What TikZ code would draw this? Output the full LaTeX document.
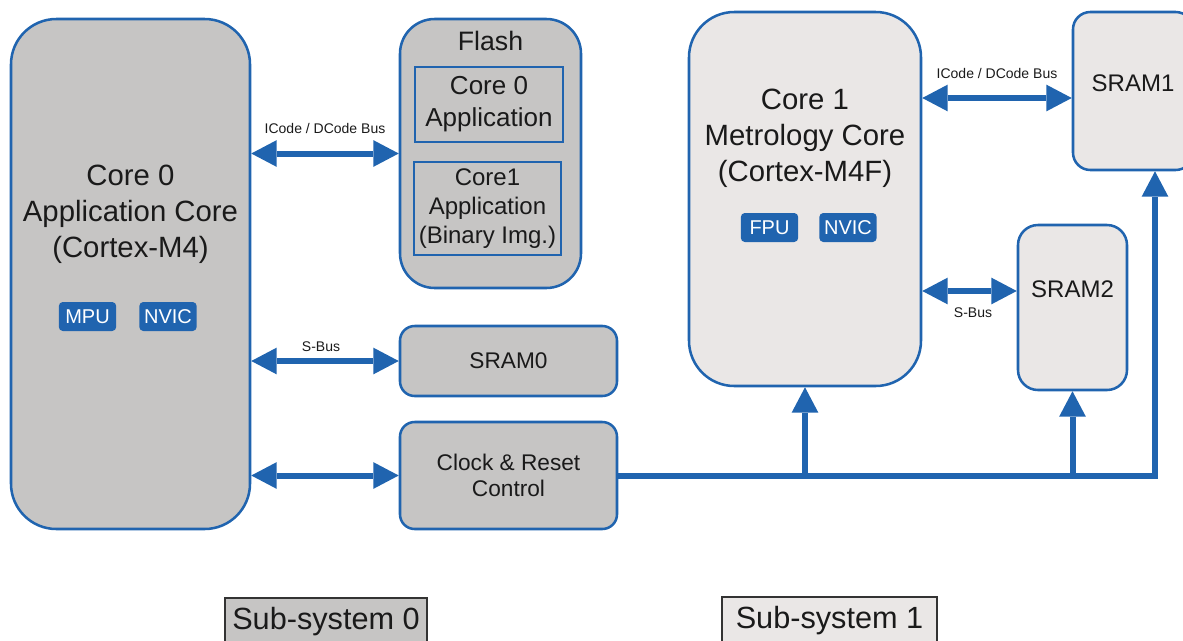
\documentclass[tikz,border=0pt]{standalone}
\usepackage{fontspec}
\setmainfont{Liberation Sans}
\usetikzlibrary{arrows.meta,positioning}
\definecolor{sysblue}{HTML}{2064AF}
\definecolor{grayfill}{HTML}{C6C5C4}
\definecolor{lightfill}{HTML}{EAE7E6}
\definecolor{txtblack}{HTML}{1A1A1A}

\begin{document}
\begin{tikzpicture}[x=.75pt,y=-.75pt,
	blk/.style={draw=sysblue, line width=1.9pt, rectangle, inner sep=0pt, text=txtblack, align=center},
	ss0/.style={blk, fill=grayfill},
	ss1/.style={blk, fill=lightfill},
	fsz/.style 2 args={font=\fontsize{#1}{#2}\selectfont},
	txt/.style={text=txtblack, align=center, inner sep=0pt},
	unit/.style={fill=sysblue, rounded corners=3pt, text=white, inner sep=0pt, minimum height=21.75pt, minimum width=43pt, fsz={15}{18}},
	bus/.style={draw=sysblue, line width=4.5pt, {Triangle[width=20pt,length=19pt,line width=0pt]}-{Triangle[width=20pt,length=19pt,line width=0pt]}},
	feed/.style={draw=sysblue, line width=4.5pt, -{Triangle[width=20pt,length=19pt,line width=0pt]}},
	buslbl/.style={txt, fsz={10.5}{12}},
	subsys/.style={draw=black!80, line width=1.5pt, inner sep=0pt, fsz={23}{27}, text=txtblack}
	]
	\useasboundingbox (0,0) rectangle (1183,640);
	
	%sub-system 0
	\node[ss0, rounded corners=34pt, minimum width=179.25pt, minimum height=382.5pt] (core0) at (130.5,274) {};
	\node[txt, fsz={22}{27}] (core0txt) at (130.5,214) {Core 0\\Application Core\\(Cortex-M4)};
	
	\node[ss0, rounded corners=26pt, minimum width=135.75pt, minimum height=201.75pt] (flash) at (490.5,153.5) {};
	\node[txt, fsz={20}{24}] (flashtxt) at (490.5,41) {Flash};
	\node[ss0, minimum width=111pt, minimum height=56.25pt, fsz={19.5}{25}] (app0) at (489,104.5) {Core 0\\[-1pt]Application};
	\node[ss0, minimum width=110.25pt, minimum height=69.75pt, fsz={18}{21.5}] (app1) at (487.5,208.5) {Core1\\Application\\(Binary Img.)};
	
	\node[ss0, rounded corners=11pt, minimum width=162.75pt, minimum height=52.5pt, fsz={17}{20}] (sram0) at (508.5,361) {SRAM0};
	\node[ss0, rounded corners=11pt, minimum width=162.75pt, minimum height=80.25pt, fsz={17}{20}] (clk) at (508.5,475.5) {Clock \& Reset\\Control};
	
	%sub-system 1
	\node[ss1, rounded corners=34pt, minimum width=174pt, minimum height=280.5pt] (core1) at (805,199) {};
	\node[txt, fsz={22}{27}] (core1txt) at (805,138) {Core 1\\Metrology Core\\(Cortex-M4F)};
	
	\node[ss1, rounded corners=13pt, minimum width=90pt, minimum height=118.5pt] (sram1) at (1133,91) {};
	\node[txt, fsz={18}{21}] (sram1txt) at (1133,83) {SRAM1};
	\node[ss1, rounded corners=15pt, minimum width=81.75pt, minimum height=123.75pt] (sram2) at (1072.5,307.5) {};
	\node[txt, fsz={18}{21}] (sram2txt) at (1072.5,289) {SRAM2};
	
	%core units
	\foreach \n/\t/\x/\y in {mpu/MPU/87.5/316.5, nvic0/NVIC/168/316.5, fpu/FPU/769.5/227.5, nvic1/NVIC/848/227.5}{
		\node[unit] (\n) at (\x,\y) {\t};
	}
	
	%buses core 0
	\foreach \b in {flash,sram0,clk}{
		\draw[bus] (core0.east |- \b.west) -- (\b.west);
	}
	\node[buslbl] (ibus0) at (325,128) {ICode / DCode Bus};
	\node[buslbl] (sbus0) at (321,347) {S-Bus};
	
	%buses core 1
	\coordinate (ib1) at (921,98);
	\coordinate (sb1) at (921,291);
	\draw[bus] (core1.east |- ib1) -- (sram1.west |- ib1);
	\draw[bus] (core1.east |- sb1) -- (sram2.west |- sb1);
	\node[buslbl] (ibus1) at (997,73) {ICode / DCode Bus};
	\node[buslbl] (sbus1) at (973,313) {S-Bus};
	
	%clock and reset
	\coordinate (turn) at (1155,0 |- clk.east);
	\draw[feed] (clk.east) -- (turn) -- (turn |- sram1.south);
	\draw[feed] (core1.south |- clk.east) -- (core1.south);
	\draw[feed] (sram2.south |- clk.east) -- (sram2.south);
	
	%labels
	\node[subsys, fill=grayfill, minimum width=151.5pt, minimum height=36pt] (sub0) at (326,622) {Sub-system 0};
	\node[subsys, fill=lightfill, minimum width=161.25pt, minimum height=36pt] (sub1) at (829.5,621) {Sub-system 1};
	
\end{tikzpicture}
\end{document}
